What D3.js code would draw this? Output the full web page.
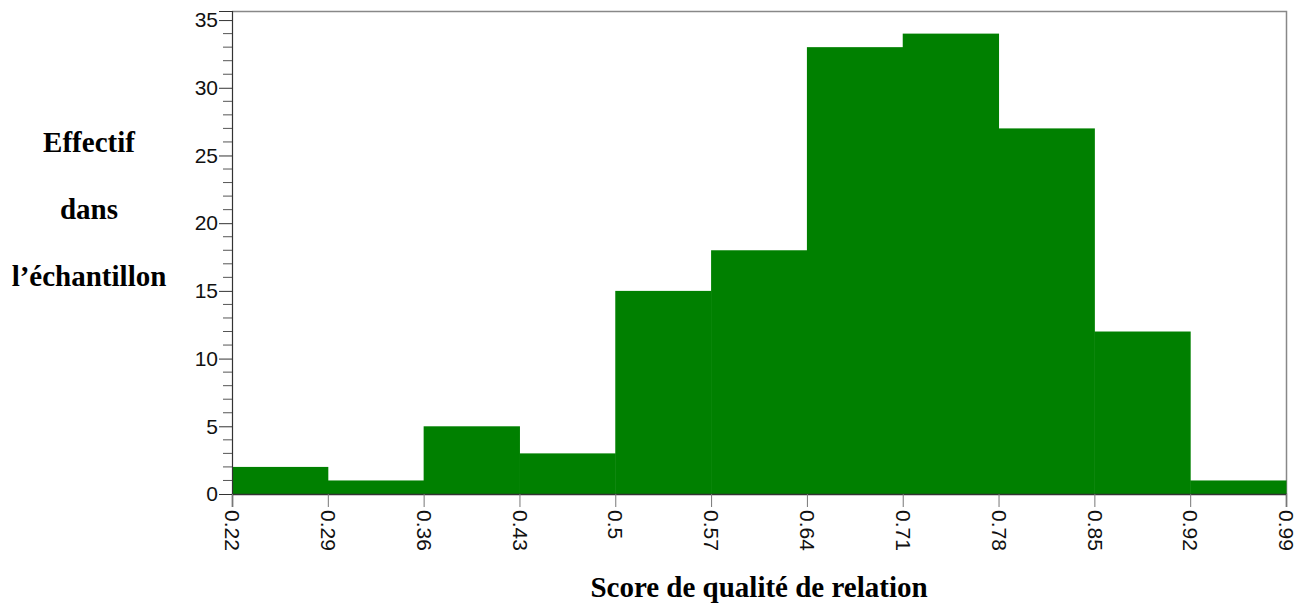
<!DOCTYPE html>
<html>
<head>
<meta charset="utf-8">
<script src="https://cdn.jsdelivr.net/npm/d3@7"></script>
<style>
  html, body { margin: 0; padding: 0; background: #fff; }
  svg { display: block; }
</style>
</head>
<body>
<svg id="chart" width="1304" height="605"></svg>
<script>
// Histogram bins of the relation quality score
const binEdges = [0.22, 0.29, 0.36, 0.43, 0.5, 0.57, 0.64, 0.71, 0.78, 0.85, 0.92, 0.99];
const counts = [2, 1, 5, 3, 15, 18, 33, 34, 27, 12, 1];
const tickLabels = ["0.22", "0.29", "0.36", "0.43", "0.5", "0.57", "0.64", "0.71", "0.78", "0.85", "0.92", "0.99"];
const yMajorTicks = [0, 5, 10, 15, 20, 25, 30, 35];
const yTitleLines = ["Effectif", "dans", "l’échantillon"];
const xTitle = "Score de qualité de relation";

const svg = d3.select("#chart");
const plot = { left: 232, right: 1286, top: 11, bottom: 494 };

const x = d3.scaleLinear().domain([0.22, 0.99]).range([plot.left, plot.right]);
const y = d3.scaleLinear().domain([0, 35.67]).range([plot.bottom, plot.top]);

// Plot frame (top and right edges in grey)
svg.append("path")
  .attr("d", `M${plot.left},${plot.top + 0.5}H${plot.right + 0.5}V${plot.bottom}`)
  .attr("fill", "none")
  .attr("stroke", "#888")
  .attr("stroke-width", 1.5);

// Bars
const bins = counts.map((c, i) => ({ x0: binEdges[i], x1: binEdges[i + 1], c }));
svg.append("g").selectAll("rect")
  .data(bins)
  .join("rect")
  .attr("x", d => x(d.x0))
  .attr("width", d => x(d.x1) - x(d.x0) + 0.5)
  .attr("y", d => y(d.c))
  .attr("height", d => y(0) - y(d.c))
  .attr("fill", "#008000");

// Y axis with unit minor ticks
const yAxis = d3.axisLeft(y)
  .tickValues(yMajorTicks)
  .tickSize(13)
  .tickPadding(1)
  .tickFormat(d3.format("d"));
const gy = svg.append("g")
  .attr("transform", `translate(${plot.left},0)`)
  .call(yAxis);
gy.select(".domain").attr("stroke", "#333").attr("stroke-width", 1.2);
gy.selectAll(".tick line").attr("stroke", "#333");
gy.selectAll(".tick text")
  .attr("font-family", "Liberation Sans, Arial, sans-serif")
  .attr("font-size", 21)
  .attr("fill", "#111");

const minor = d3.range(0, 36).filter(v => v % 5 !== 0);
svg.append("g").selectAll("line")
  .data(minor)
  .join("line")
  .attr("x1", plot.left - 9)
  .attr("x2", plot.left)
  .attr("y1", d => y(d))
  .attr("y2", d => y(d))
  .attr("stroke", "#555")
  .attr("stroke-width", 1);

// X axis with labels turned a quarter clockwise
const xAxis = d3.axisBottom(x)
  .tickValues(binEdges)
  .tickSize(13)
  .tickFormat((d, i) => tickLabels[i]);
const gx = svg.append("g")
  .attr("transform", `translate(0,${plot.bottom})`)
  .call(xAxis);
gx.select(".domain").attr("stroke", "#333").attr("stroke-width", 1.5);
gx.selectAll(".tick line").attr("stroke", "#777");
gx.selectAll(".tick text")
  .attr("font-family", "Liberation Sans, Arial, sans-serif")
  .attr("font-size", 21)
  .attr("fill", "#111")
  .attr("text-anchor", "start")
  .attr("x", 0)
  .attr("y", 0)
  .attr("dy", "0.35em")
  .attr("transform", "translate(0,16) rotate(90)");

// Axis titles
svg.append("g").selectAll("text")
  .data(yTitleLines)
  .join("text")
  .attr("x", 89)
  .attr("y", (d, i) => 152 + i * 67)
  .attr("text-anchor", "middle")
  .attr("font-family", "Liberation Serif, Times New Roman, serif")
  .attr("font-weight", "bold")
  .attr("font-size", 29)
  .attr("fill", "#000")
  .text(d => d);

svg.append("text")
  .attr("x", 759)
  .attr("y", 597)
  .attr("text-anchor", "middle")
  .attr("font-family", "Liberation Serif, Times New Roman, serif")
  .attr("font-weight", "bold")
  .attr("font-size", 29)
  .attr("fill", "#000")
  .text(xTitle);
</script>
</body>
</html>
